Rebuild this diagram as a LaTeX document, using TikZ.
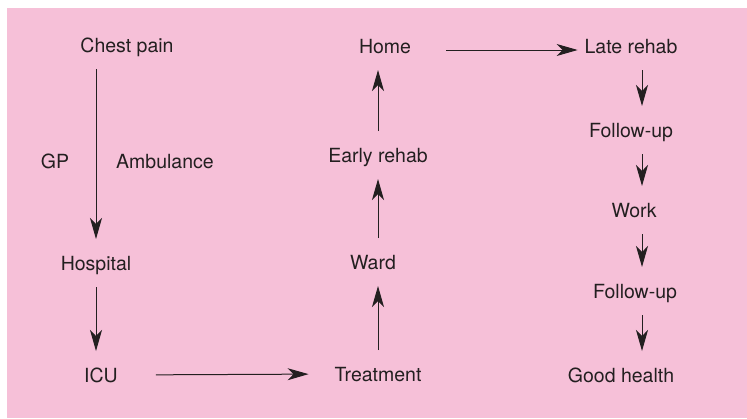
\documentclass[tikz,border=0pt]{standalone}
\usepackage{fontspec}
\setmainfont{TeX Gyre Heros}
\usetikzlibrary{arrows.meta}
\definecolor{bgpink}{RGB}{246,192,216}
\definecolor{ink}{RGB}{35,31,32}

\begin{document}
\begin{tikzpicture}[x = 1pt,y = -1pt,
    every node/.style = {font = {\fontsize{19.5}{22}\selectfont}, text = ink, anchor = base,
        inner sep = 0pt, outer xsep = 0pt, outer ysep = 15pt, text height = 16pt, text depth = 2pt},
    arr/.style = {draw = ink, line width = 1pt, -{Stealth[length = 21pt,width = 12pt,inset = 6pt]}}]
        \useasboundingbox (0,0) rectangle (747,418);
        \fill[bgpink] (7,8) rectangle (747,418);

        % left column
        \node (chest) at (127,52) {Chest pain};
        \node (gp) at (55,168) {GP};
        \node (amb) at (165,168) {Ambulance};
        \node (hosp) at (96,270) {Hospital};
        \node (icu) at (101,382) {ICU};

        % middle column
        \node (treat) at (378,381) {Treatment};
        \node (ward) at (373,269) {Ward};
        \node (early) at (378,162) {Early rehab};
        \node (home) at (385,53) {Home};

        % right column
        \node (late) at (631,53) {Late rehab};
        \node (fu1) at (631,137) {Follow-up};
        \node (work) at (634,217) {Work};
        \node (fu2) at (635,298) {Follow-up};
        \node (good) at (621,382) {Good health};
        \coordinate (rcol) at (642,0);

        \draw[arr] (chest.south -| hosp) -- (hosp.north);
        \draw[arr] (hosp.south) -- (hosp.south |- icu.north);
        \draw[arr,shorten <= 38pt,shorten >= 26pt] (icu.east) -- (treat.west);
        \draw[arr] (treat.north) -- (treat.north |- ward.south);
        \draw[arr] (early.south |- ward.north) -- (early.south);
        \draw[arr] (early.north) -- (early.north |- home.south);
        \draw[arr,shorten <= 35pt,shorten >= 7pt] ([yshift = -4pt]home.east) -- ([yshift = -4pt]late.west);
        \foreach \a/\b in {late/fu1,fu1/work,work/fu2,fu2/good}
            \draw[arr] (\a.south -| rcol) -- (\b.north -| rcol);
\end{tikzpicture}
\end{document}
